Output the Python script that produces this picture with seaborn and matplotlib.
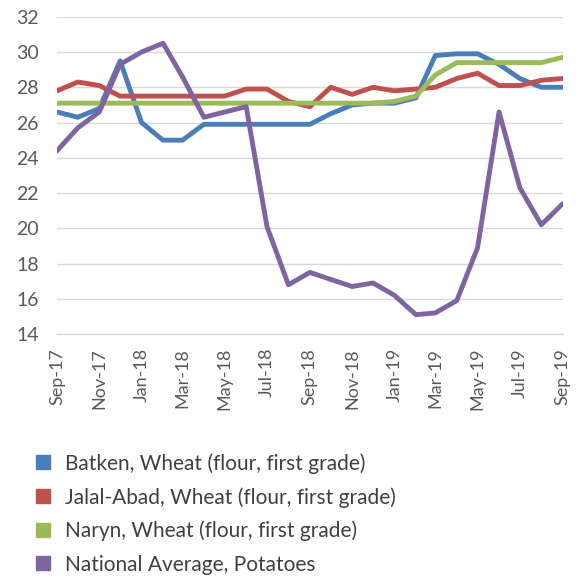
import pandas as pd
import matplotlib.pyplot as plt
import seaborn as sns
from matplotlib.lines import Line2D

# Monthly prices, Sep-2017 .. Sep-2019
months = pd.date_range("2017-09-01", "2019-09-01", freq="MS")

batken = [26.6, 26.3, 26.8, 29.5, 26.0, 25.0, 25.0, 25.9, 25.9, 25.9, 25.9,
          25.9, 25.9, 26.5, 27.0, 27.1, 27.1, 27.4, 29.8, 29.9, 29.9, 29.3,
          28.5, 28.0, 28.0]
jalal_abad = [27.8, 28.3, 28.1, 27.5, 27.5, 27.5, 27.5, 27.5, 27.5, 27.9, 27.9,
              27.2, 26.9, 28.0, 27.6, 28.0, 27.8, 27.9, 28.0, 28.5, 28.8, 28.1,
              28.1, 28.4, 28.5]
naryn = [27.1, 27.1, 27.1, 27.1, 27.1, 27.1, 27.1, 27.1, 27.1, 27.1, 27.1,
         27.1, 27.1, 27.1, 27.1, 27.1, 27.2, 27.5, 28.7, 29.4, 29.4, 29.4,
         29.4, 29.4, 29.7]
potatoes = [24.4, 25.7, 26.6, 29.3, 30.0, 30.5, 28.6, 26.3, 26.6, 26.9, 20.1,
            16.8, 17.5, 17.1, 16.7, 16.9, 16.2, 15.1, 15.2, 15.9, 18.9, 26.6,
            22.3, 20.2, 21.4]

series_names = ["Batken, Wheat (flour, first grade)",
                "Jalal-Abad, Wheat (flour, first grade)",
                "Naryn, Wheat (flour, first grade)",
                "National Average, Potatoes"]
colors = ["#4A7EBB", "#C0504D", "#9BBB59", "#8064A2"]

# long-form table for seaborn
df = pd.concat([
    pd.DataFrame({"month": months, "price": vals, "series": name})
    for name, vals in zip(series_names, [batken, jalal_abad, naryn, potatoes])
])

sns.set_style("white")
plt.rcParams["font.family"] = ["Lato", "DejaVu Sans"]

fig = plt.figure(figsize=(5.82, 5.79), dpi=100)
ax = fig.add_axes([0.098, 0.423, 0.869, 0.548])

sns.lineplot(data=df, x="month", y="price", hue="series",
             palette=colors, linewidth=3.5, ax=ax, legend=False)

# axes styling like the Excel original
ax.set_ylim(14, 32)
ax.set_yticks(range(14, 33, 2))
ax.set_xlim(months[0], months[-1])
tick_months = months[::2]
ax.set_xticks(tick_months)
ax.set_xticklabels([d.strftime("%b-%y") for d in tick_months], rotation=90)
ax.grid(axis="y", color="#D9D9D9", linewidth=1)
ax.set_axisbelow(True)
for side in ["top", "right", "left"]:
    ax.spines[side].set_visible(False)
ax.spines["bottom"].set_color("#D9D9D9")
ax.spines["bottom"].set_linewidth(1)
ax.tick_params(axis="x", direction="out", length=6, color="#D9D9D9",
               labelsize=13, labelcolor="#595959", pad=4)
ax.tick_params(axis="y", length=0, labelsize=14, labelcolor="#595959", pad=13)
ax.set_xlabel("")
ax.set_ylabel("")

# legend with square markers below the chart
handles = [Line2D([], [], marker="s", linestyle="none", markersize=10,
                  markerfacecolor=c, markeredgecolor=c) for c in colors]
fig.legend(handles, series_names, loc="upper left",
           bbox_to_anchor=(0.02, 0.25), frameon=False,
           fontsize=15, labelcolor="#404040", handletextpad=0.45,
           labelspacing=0.64, handlelength=1.2)

plt.savefig("out.png", dpi=100)
plt.close()
